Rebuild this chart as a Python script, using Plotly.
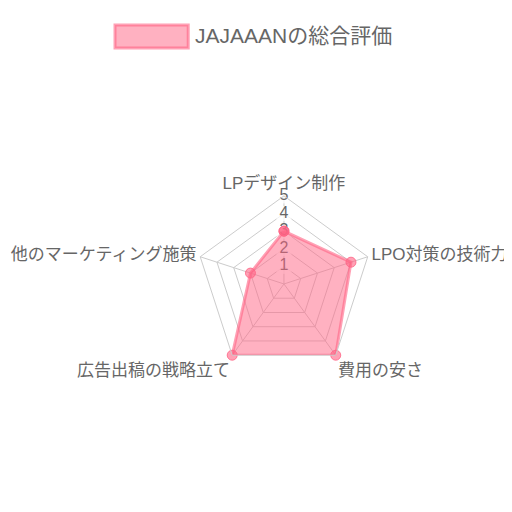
import plotly.graph_objects as go

# Radar data
categories = ['LPデザイン制作', 'LPO対策の技術力', '費用の安さ', '広告出稿の戦略立て', '他のマーケティング施策']
scores = [3, 4, 5, 5, 2]
series_name = 'JAJAAANの総合評価'

tick_vals = [1, 2, 3, 4, 5]
tick_text = ['1', '2', '3', '4', '5']

font_family = 'Liberation Sans, Arial, Noto Sans CJK JP, sans-serif'
grid = '#cccccc'
text_col = '#666666'
pink_fill = 'rgba(255,99,132,0.5)'
pink_line = 'rgba(255,99,132,0.6)'

fig = go.Figure()

# tick labels drawn on the first spoke (below the data, with a light backdrop)
fig.add_trace(go.Scatterpolar(
    r=tick_vals,
    theta=[categories[0]] * len(tick_vals),
    mode='markers+text',
    text=tick_text,
    textposition='middle center',
    textfont=dict(size=16, color=text_col, family=font_family),
    marker=dict(symbol='square', size=15, color='rgba(255,255,255,0.75)'),
    hoverinfo='skip',
    showlegend=False,
))

# close the polygon
fig.add_trace(go.Scatterpolar(
    r=scores + scores[:1],
    theta=categories + categories[:1],
    name=series_name,
    mode='lines+markers',
    fill='toself',
    fillcolor=pink_fill,
    line=dict(color=pink_line, width=3),
    marker=dict(size=10, color=pink_line,
                line=dict(color='rgba(255,99,132,0.8)', width=1)),
    showlegend=False,
))

# legend box like the chart.js one
fig.add_shape(type='rect', xref='paper', yref='paper',
              x0=0.209, x1=0.352, y0=0.922, y1=0.967,
              fillcolor=pink_fill, line=dict(color=pink_line, width=3))
fig.add_annotation(text=series_name, xref='paper', yref='paper',
                   x=0.362, y=0.946, xanchor='left', yanchor='middle',
                   showarrow=False, font=dict(size=21, color=text_col))

fig.update_layout(
    width=512, height=512,
    margin=dict(l=0, r=0, t=0, b=0),
    paper_bgcolor='white',
    font=dict(family=font_family, color=text_col),
    polar=dict(
        domain=dict(x=[0.367, 0.711], y=[0.289, 0.633]),
        bgcolor='white',
        gridshape='linear',
        radialaxis=dict(range=[0, 5], tickvals=tick_vals, showticklabels=False,
                        ticks='', showline=False, gridcolor=grid, gridwidth=1,
                        angle=90),
        angularaxis=dict(direction='clockwise', rotation=90, showline=True,
                         linecolor=grid, gridcolor=grid, ticks='',
                         tickfont=dict(size=17, color=text_col)),
    ),
    showlegend=False,
)

fig.write_html('out.html')
